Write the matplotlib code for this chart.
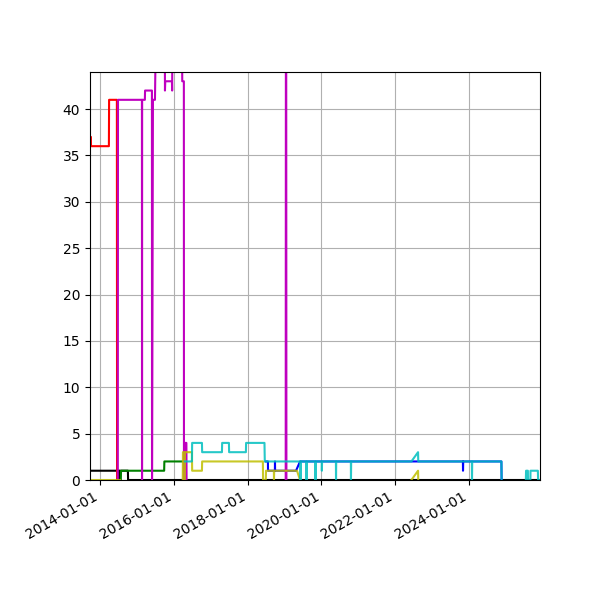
import numpy as np
import pandas as pd
import matplotlib
matplotlib.use("Agg")
import matplotlib.pyplot as plt
import matplotlib.dates as mdates

nan = np.nan

black_dates = ["2013-09-24", "2014-07-07", "2014-07-08", "2014-07-10", "2014-10-04", "2014-10-06", "2025-12-04"]
black_vals = [1, 1, 0, 1, 1, 0, 0]

blue_dates = ["2018-06-30", "2018-07-21", "2018-07-22", "2018-09-28", "2018-09-29", "2018-09-30",
	"2019-04-25", "2019-06-04", "2023-11-02", "2023-11-03", "2023-11-05", "2024-11-17", "2024-11-19"]
blue_vals = [2, 2, 1, 1, 2, 1, 1, 2, 2, 1, 2, 2, 0]

green_dates = ["2014-07-26", "2014-07-28", "2015-09-28", "2015-09-30", "2016-04-10", "2016-04-11"]
green_vals = [0, 1, 1, 2, 2, 0]

red_dates = ["2013-09-24", "2013-10-03", "2013-10-04", "2014-03-30", "2014-04-01", "2014-06-17", "2014-06-19"]
red_vals = [37, 37, 36, 36, 41, 41, 0]

magenta_dates = ["2014-06-26", "2014-06-28", "2015-02-20", "2015-02-21", "2015-02-22", "2015-03-21",
	"2015-03-23", "2015-05-30", "2015-05-31", "2015-06-09", "2015-06-29", "2015-07-10",
	"2015-10-04", "2015-10-06", "2015-10-09", "2015-12-14", "2015-12-16", "2015-12-20",
	"2016-03-22", "2016-03-25", "2016-04-10", "2016-04-11", "2016-04-19", "2016-04-21",
	"2016-05-05", "2016-05-07", "2016-05-08",
	"2019-01-13", "2019-01-15", "2019-01-18", "2019-01-20"]
magenta_vals = [0, 41, 41, 0, 41, 41,
	42, 42, 0, 41, 41, 50,
	50, 42, 43, 43, 42, 50,
	50, 43, 43, 0, 0, 4,
	4, 0, nan,
	0, 50, 50, 0]

yellow_early_dates = ["2013-09-24", "2014-07-20"]
yellow_early_vals = [0, 0]

yellow_dates = ["2016-03-30", "2016-04-01", "2016-04-10", "2016-04-11", "2016-04-20", "2016-04-21",
	"2016-06-29", "2016-07-01", "2016-10-06", "2016-10-08", "2018-06-01", "2018-06-03",
	"2018-06-30", "2018-07-02", "2018-09-18", "2018-09-19", "2018-09-21", "2019-05-05",
	"2019-06-04", "2019-06-05",
	"2022-06-10", "2022-08-15", "2022-08-17"]
yellow_vals = [0, 3, 3, 0, 0, 3,
	3, 1, 1, 2, 2, 0,
	0, 1, 1, 0, 1, 1,
	0, nan,
	0, 1, 0]

cyan_dates = ["2016-04-20", "2016-06-29", "2016-07-01", "2016-10-06", "2016-10-08", "2017-04-22",
	"2017-04-24", "2017-06-30", "2017-07-02", "2017-12-15", "2017-12-17", "2018-06-17",
	"2018-06-20",
	"2019-06-08", "2019-06-09", "2019-06-11", "2019-08-06", "2019-08-07", "2019-08-09",
	"2019-11-03", "2019-11-04", "2019-11-06", "2020-01-05", "2020-01-06", "2020-01-08",
	"2020-05-24", "2020-05-25", "2020-05-27", "2020-10-19", "2020-10-20", "2020-10-22",
	"2022-06-10", "2022-08-15", "2022-08-17", "2024-01-30", "2024-01-31", "2024-02-02",
	"2024-11-17", "2024-11-19", "2024-11-20",
	"2025-07-17", "2025-07-19", "2025-08-06", "2025-08-07", "2025-08-31", "2025-09-01",
	"2025-11-13", "2025-11-15", "2025-12-04"]
cyan_vals = [2, 2, 4, 4, 3, 3,
	4, 4, 3, 3, 4, 4,
	2,
	2, 0, 2, 2, 0, 2,
	2, 0, 2, 2, 1, 2,
	2, 0, 2, 2, 0, 2,
	2, 3, 2, 2, 0, 2,
	2, 0, nan,
	0, 1, 1, 0, 0, 1,
	1, 0, 0]

tick_years = [2014, 2016, 2018, 2020, 2022, 2024]


def draw_lines(ax):
	# yellow and cyan are a bit see-through, so where they sit on blue/black they mix
	series = [
		(black_dates, black_vals, "k", 1.0),
		(blue_dates, blue_vals, "b", 1.0),
		(green_dates, green_vals, "g", 1.0),
		(red_dates, red_vals, "r", 1.0),
		(magenta_dates, magenta_vals, "m", 1.0),
		(yellow_early_dates, yellow_early_vals, "y", 0.85),
		(yellow_dates, yellow_vals, "y", 0.85),
		(cyan_dates, cyan_vals, "c", 0.85),
	]
	for dates, vals, color, alpha in series:
		ax.plot(pd.to_datetime(dates), vals, color=color, alpha=alpha, linewidth=1.5)


def main():
	fig = plt.figure(figsize=(6, 6), dpi=100)
	ax = fig.add_axes([0.15, 0.2, 0.75, 0.68])

	draw_lines(ax)

	ax.set_xlim(pd.Timestamp("2013-09-24"), pd.Timestamp("2025-12-04"))
	ax.set_ylim(0, 44)
	ax.set_xticks([pd.Timestamp(f"{y}-01-01") for y in tick_years])
	ax.xaxis.set_major_formatter(mdates.DateFormatter("%Y-%m-%d"))
	ax.set_yticks(range(0, 45, 5))
	ax.grid(True)
	for label in ax.get_xticklabels():
		label.set_rotation(30)
		label.set_horizontalalignment("right")

	fig.savefig("out.png", dpi=100)


main()
